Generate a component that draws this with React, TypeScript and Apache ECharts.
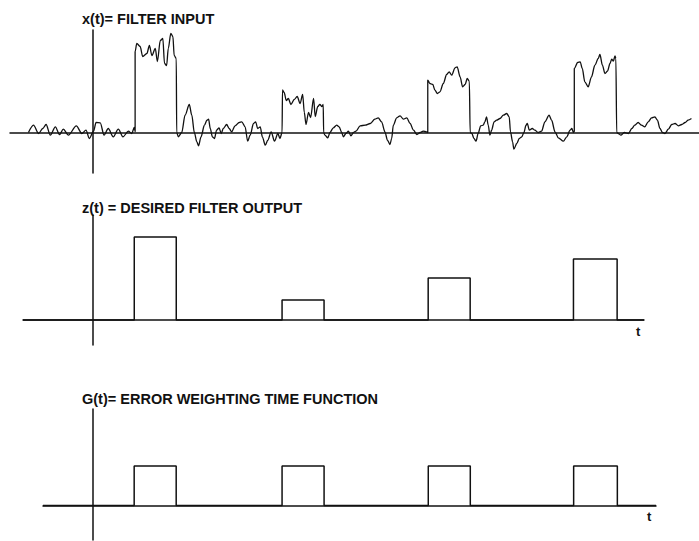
import React, { useEffect, useRef } from "react";
import * as echarts from "echarts";

const filterInput: number[][] = [
  [-15.4, 0], [-14.2, 0.73], [-13.0, -0.1], [-12.0, 0.4], [-11.2, 0.8], [-10.2, -0.27], [-9.0, 0.57], [-8.0, -0.2],
  [-7.1, 0.33], [-5.9, -0.27], [-4.0, 0.67], [-2.7, -0.1], [-1.7, 0.23], [-0.9, -0.6], [0.1, 0.13], [0.7, 1.0],
  [1.7, 0.97], [2.6, -0.27], [3.6, 0.4], [4.8, -0.43], [6.0, 0.33], [7.1, -0.43], [8.4, 0.13], [9.2, -0.1],
  [9.8, 0.5], [10.0, 0.1],
  [10.0, 8.1], [10.4, 8.9], [11.2, 8.6], [11.8, 7.6], [12.8, 7.9], [13.4, 8.7], [14.0, 7.7], [14.8, 8.4],
  [15.3, 7.1], [16.0, 9.2], [16.6, 9.4], [17.0, 6.9], [17.5, 6.7], [17.9, 8.4], [18.5, 9.9], [19.0, 9.6],
  [19.3, 7.7], [19.8, 7.4], [19.9, 0],
  [20.3, -0.43], [21.1, 0], [21.9, 1.73], [22.9, 2.8], [23.5, 1.73], [24.1, 0], [24.7, -0.93], [25.1, -1.33],
  [25.7, -0.43], [26.5, 0.73], [27.1, 1.23], [27.5, 1.33], [27.9, 0.4], [28.4, -0.43], [28.9, -0.6], [29.4, 0.23],
  [30.0, 0.47], [30.5, -0.1], [31.0, 0.4], [31.8, 0.8], [32.4, 0.4], [33.0, 0.07], [33.8, 0.67], [34.8, 1.0],
  [35.4, 1.07], [36.2, 0.57], [36.8, -0.87], [37.4, -0.27], [38.2, 0.9], [38.7, 1.07], [39.2, 0.4], [39.8, 0.57],
  [40.3, -0.43], [41.0, -1.27], [41.6, -0.77], [42.4, 0.07], [43.2, -0.87], [44.0, -0.1], [44.5, -0.6], [45.0, 0],
  [45.1, 4.27], [45.5, 4.0], [46.0, 3.2], [46.5, 3.4], [47.1, 2.8], [47.9, 3.3], [48.6, 3.6], [49.3, 2.9],
  [49.9, 3.8], [50.3, 2.0], [50.7, 0.8], [51.3, 2.0], [51.8, 1.5], [52.5, 3.4], [52.9, 1.6], [53.5, 2.6],
  [54.0, 2.8], [54.5, 2.6], [54.8, 2.8], [54.9, 0],
  [55.2, -0.27], [55.9, -0.53], [56.4, 0], [57.2, 0.47], [58.0, 0.73], [58.6, 0.57], [59.2, 0], [59.6, -0.43],
  [60.2, -0.1], [60.8, 0.13], [61.4, -0.33], [62.0, 0], [62.6, 0.13], [63.6, 0.67], [64.8, 0.73], [66.0, 0.9],
  [67.1, 1.33], [67.9, 1.47], [68.7, 1.07], [69.5, 0.07], [70.1, -0.77], [70.7, -1.2], [71.1, -0.6], [71.5, 0.73],
  [72.3, 1.47], [73.1, 1.67], [73.9, 1.33], [74.7, 1.47], [75.5, 0.9], [76.3, 0.23], [77.1, -0.2], [77.9, 0],
  [78.6, 0.13], [79.4, 0.07], [79.7, 0],
  [79.7, 5.23], [80.2, 4.9], [80.9, 4.8], [81.4, 4.23], [82.0, 3.9], [82.6, 4.07], [83.4, 4.9], [84.2, 5.8],
  [84.8, 6.07], [85.4, 5.73], [86.2, 6.47], [86.7, 6.57], [87.4, 5.57], [88.0, 4.57], [88.6, 4.8], [89.1, 5.4],
  [89.6, 5.13], [89.8, 0],
  [90.2, -0.1], [90.7, -0.6], [91.2, -0.87], [91.7, -0.1], [92.3, 0.67], [92.9, 0.73], [93.3, 1.07], [93.7, 1.57],
  [94.1, 0.73], [94.5, -0.27], [94.9, 0.23], [95.5, 1.07], [96.1, 1.23], [96.9, 1.4], [97.7, 1.73], [98.5, 1.9],
  [99.1, 1.57], [99.4, 0.07], [99.9, -0.93], [100.2, -1.67], [100.9, -1.1], [101.5, -0.6], [102.1, -0.43], [102.6, 0],
  [103.1, 0.73], [103.4, 0.9], [103.9, 0.23], [104.6, 0.4], [105.2, 0.23], [106.0, 0], [106.8, 0.13], [107.6, 1.07],
  [108.6, 1.73], [109.2, 1.23], [110.0, 0.07], [110.8, -0.53], [112.0, -0.87], [112.8, -0.43], [113.6, 0.23], [114.0, 0.4],
  [114.4, 0], [114.6, 0.1],
  [114.6, 6.4], [115.4, 7.0], [116.0, 7.07], [116.5, 6.4], [117.1, 5.07], [117.9, 4.57], [118.7, 5.57], [119.5, 6.73],
  [120.3, 7.4], [120.7, 7.8], [121.3, 6.73], [121.9, 5.9], [122.5, 6.13], [123.1, 6.9], [123.5, 7.33], [123.9, 7.13],
  [124.3, 7.67], [124.5, 7.4], [124.7, 0],
  [125.1, -0.1], [125.7, -0.27], [126.5, 0], [127.5, -0.1], [128.3, 0.4], [129.0, 0.73], [129.8, 1.0], [130.6, 0.73],
  [131.4, 0.57], [132.2, 1.07], [133.0, 1.47], [133.8, 1.57], [134.4, 1.23], [135.0, 0.4], [135.6, 0], [136.2, -0.1],
  [137.0, 0.33], [137.8, 0.8], [138.6, 0.9], [139.4, 0.67], [140.2, 0.8], [141.0, 1.0], [141.7, 1.23], [142.5, 1.4],
];

// pulse windows (start / end on the t axis)
const pulseStart = [9.8, 45.0, 79.8, 114.4];
const pulseEnd = [19.8, 55.0, 89.8, 124.8];
// z(t) desired output levels, one per pulse
const desiredOutput = [8.3, 2.0, 4.2, 6.1];
// G(t) error weighting levels, one per pulse
const errorWeight = [1, 1, 1, 1];

const titles = [
  "x(t)= FILTER INPUT",
  "z(t) = DESIRED FILTER OUTPUT",
  "G(t)= ERROR WEIGHTING TIME FUNCTION",
];

function pulseTrain(levels: number[], tMin: number, tMax: number): number[][] {
  const pts: number[][] = [[tMin, 0]];
  levels.forEach((h, i) => {
    pts.push([pulseStart[i], 0], [pulseStart[i], h], [pulseEnd[i], h], [pulseEnd[i], 0]);
  });
  pts.push([tMax, 0]);
  return pts;
}

const INK = "#111";

export default function App() {
  const ref = useRef<HTMLDivElement>(null);
  useEffect(() => {
    if (!ref.current) return;
    const chart = echarts.init(ref.current, undefined, { renderer: "svg" });

    const axisLine = { show: true, onZero: true, lineStyle: { color: INK, width: 1.5 } };
    const mkAxis = (grid: number, min: number, max: number) => ({
      type: "value", gridIndex: grid, min, max,
      axisLine, axisTick: { show: false }, axisLabel: { show: false }, splitLine: { show: false },
    });

    const x0 = [-19.8, 144.3];
    const x1 = [-16.7, 131.2];
    const x2 = [-11.9, 134.0];

    const font = "bold 14.5px 'Liberation Sans', Arial, sans-serif";
    const tFont = "bold 13px 'Liberation Sans', Arial, sans-serif";
    const option: any = {
      animation: false,
      backgroundColor: "#fff",
      grid: [
        { left: 10, width: 689, top: 30, height: 143 },
        { left: 23, width: 621, top: 215, height: 130 },
        { left: 43, width: 613, top: 409, height: 131 },
      ],
      xAxis: [mkAxis(0, x0[0], x0[1]), mkAxis(1, x1[0], x1[1]), mkAxis(2, x2[0], x2[1])],
      yAxis: [mkAxis(0, -4.05, 10.25), mkAxis(1, -2.5, 10.5), mkAxis(2, -0.873, 2.44)],
      series: [
        {
          type: "line", xAxisIndex: 0, yAxisIndex: 0, data: filterInput,
          showSymbol: false, smooth: 0.3, smoothMonotone: "x",
          lineStyle: { color: INK, width: 1.3 }, z: 3,
        },
        {
          type: "line", xAxisIndex: 1, yAxisIndex: 1, data: pulseTrain(desiredOutput, x1[0], x1[1]),
          showSymbol: false, lineStyle: { color: INK, width: 1.5 }, z: 3,
        },
        {
          type: "line", xAxisIndex: 2, yAxisIndex: 2, data: pulseTrain(errorWeight, x2[0], x2[1]),
          showSymbol: false, lineStyle: { color: INK, width: 1.5 }, z: 3,
        },
      ],
      graphic: [
        { type: "text", left: 82, top: 11, style: { text: titles[0], font, fill: INK } },
        { type: "text", left: 82, top: 200, style: { text: titles[1], font, fill: INK } },
        { type: "text", left: 82, top: 391, style: { text: titles[2], font, fill: INK } },
        { type: "text", left: 636, top: 325, style: { text: "t", font: tFont, fill: INK } },
        { type: "text", left: 647, top: 510, style: { text: "t", font: tFont, fill: INK } },
      ],
    };
    chart.setOption(option);
    return () => chart.dispose();
  }, []);
  return (
    <div
      ref={ref}
      style={{ position: "absolute", left: 0, top: 0, width: 699, height: 541, background: "#fff" }}
    />
  );
}
